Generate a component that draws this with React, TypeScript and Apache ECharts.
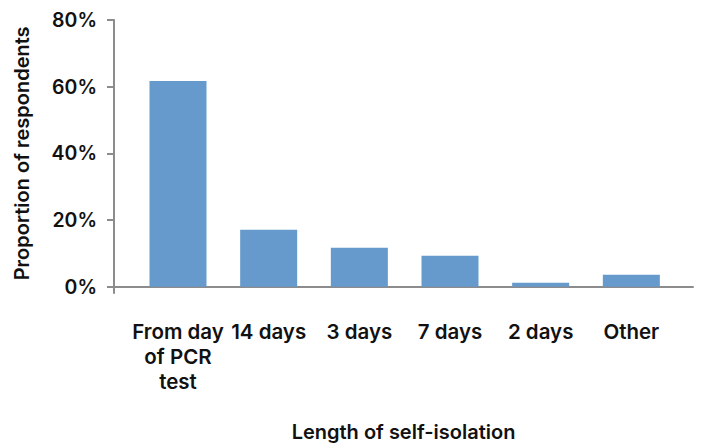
import React, { useEffect, useRef } from "react";
import * as echarts from "echarts";

const categories = ["From day\nof PCR\ntest", "14 days", "3 days", "7 days", "2 days", "Other"];
const values = [0.617, 0.171, 0.117, 0.093, 0.012, 0.036];
const yTickLabels = ["0%", "20%", "40%", "60%", "80%"];
const xTitle = "Length of self-isolation";
const yTitle = "Proportion of respondents";

const FONT = "Inter";
const WEIGHT = 600;
const AXIS_COLOR = "#8c8c8c";
const TEXT_COLOR = "#111111";

export default function App() {
  const ref = useRef<HTMLDivElement>(null);
  useEffect(() => {
    const chart = echarts.init(ref.current!, null, { renderer: "svg" });
    chart.setOption({
      animation: false,
      grid: [
        { left: 132.67, right: 27.33, top: 20, bottom: 161.3, outerBoundsMode: "none", containLabel: false },
        { left: 114, right: 11, top: 20, bottom: 161.3, outerBoundsMode: "none", containLabel: false },
      ],
      xAxis: [
        {
          type: "category",
          gridIndex: 0,
          data: categories,
          axisLine: { show: false },
          axisTick: { alignWithLabel: true, length: 7, lineStyle: { color: AXIS_COLOR, width: 2 } },
          axisLabel: {
            interval: 0,
            margin: 32,
            fontFamily: FONT,
            fontWeight: WEIGHT,
            fontSize: 20.5,
            lineHeight: 25,
            color: TEXT_COLOR,
            align: "center",
          },
        },
        {
          type: "value",
          gridIndex: 1,
          min: 0,
          max: 1,
          axisLine: { show: true, lineStyle: { color: AXIS_COLOR, width: 2 } },
          axisTick: { show: true, customValues: [0], length: 7, lineStyle: { color: AXIS_COLOR, width: 2 } },
          axisLabel: { show: false },
          splitLine: { show: false },
          name: xTitle,
          nameLocation: "middle",
          nameGap: 135,
          nameTextStyle: { fontFamily: FONT, fontWeight: WEIGHT, fontSize: 20, color: TEXT_COLOR },
        },
      ],
      yAxis: [
        { type: "value", gridIndex: 0, min: 0, max: 0.8, interval: 0.2, show: false },
        {
          type: "value",
          gridIndex: 1,
          min: 0,
          max: 0.8,
          interval: 0.2,
          axisLine: { show: true, lineStyle: { color: AXIS_COLOR, width: 2 } },
          axisTick: { show: true, length: 7, lineStyle: { color: AXIS_COLOR, width: 2 } },
          splitLine: { show: false },
          axisLabel: {
            margin: 17,
            fontFamily: FONT,
            fontWeight: WEIGHT,
            fontSize: 19.5,
            color: TEXT_COLOR,
            formatter: (v: number) => yTickLabels[Math.round(v / 0.2)],
          },
          name: yTitle,
          nameLocation: "middle",
          nameGap: 82,
          nameRotate: 90,
          nameTextStyle: { fontFamily: FONT, fontWeight: WEIGHT, fontSize: 20, color: TEXT_COLOR },
        },
      ],
      series: [
        {
          type: "bar",
          xAxisIndex: 0,
          yAxisIndex: 0,
          data: values,
          barWidth: 57,
          itemStyle: { color: "#6699cc" },
        },
      ],
    });
    return () => chart.dispose();
  }, []);
  return (
    <div
      ref={ref}
      style={{ position: "fixed", left: 0, top: 0, width: 704, height: 448, background: "#ffffff" }}
    />
  );
}
